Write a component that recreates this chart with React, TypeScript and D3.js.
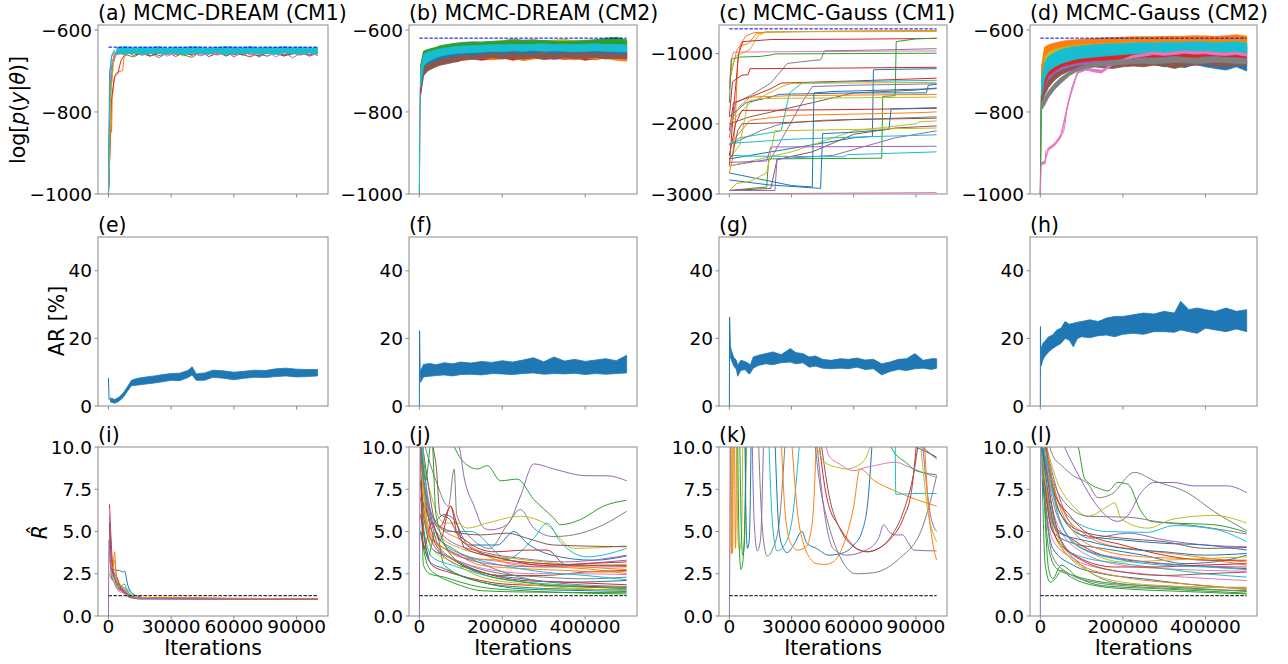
import React from 'react';
import * as d3 from 'd3';

type Pt = [number, number];
type Trace = [number, Pt[]];            // colour index, points
type Band = [number, number[], number[]]; // colour index, lower edge, upper edge
type Walk = [number, number[]];          // colour index, values on a shared x grid

const palette = ['#1f77b4', '#ff7f0e', '#2ca02c', '#d62728', '#9467bd', '#8c564b', '#e377c2', '#7f7f7f', '#bcbd22', '#17becf'];

const titles = [
  ['(a) MCMC-DREAM (CM1)', '(b) MCMC-DREAM (CM2)', '(c) MCMC-Gauss (CM1)', '(d) MCMC-Gauss (CM2)'],
  ['(e)', '(f)', '(g)', '(h)'],
  ['(i)', '(j)', '(k)', '(l)'],
];
const iterMax = [100000, 500000, 100000, 500000];
const shortTicks = [0, 30000, 60000, 90000];
const longTicks = [0, 200000, 400000];
const llTicks = [-1000, -800, -600];
const llTicksC = [-3000, -2000, -1000];
const arTicks = [0, 20, 40];
const rhatTicks = [0, 2.5, 5, 7.5, 10];
const bestLL = [-642, -620, -648, -620];
const rhatLimit = 1.2;

// ---------- (a) DREAM CM1 log-likelihood ----------
const aBurnIn: Trace[] = [
  [0, [[0, -1000], [600, -780], [1500, -690], [3000, -656], [5000, -650]]],
  [1, [[0, -1000], [1200, -830], [1500, -850], [1800, -770], [2600, -722], [3500, -706], [5000, -702], [6800, -699], [7400, -668], [9000, -655]]],
  [2, [[0, -1000], [800, -745], [2000, -682], [4000, -656]]],
  [3, [[0, -1000], [1500, -765], [3000, -714], [4500, -706], [6000, -674], [8000, -660]]],
  [4, [[0, -1000], [700, -735], [2500, -668], [4000, -653]]],
  [5, [[0, -1000], [900, -765], [2200, -684], [3500, -660]]],
  [6, [[0, -1000], [1000, -725], [2000, -674], [3000, -657]]],
  [7, [[0, -1000], [500, -705], [1500, -666], [3000, -650]]],
  [8, [[0, -1000], [1200, -755], [2500, -676], [4000, -655]]],
  [9, [[0, -1000], [300, -905], [800, -705], [1500, -662], [3000, -648]]],
];
const aStatX = [4000, 8000, 12000, 16000, 20000, 24000, 28000, 32000, 36000, 40000, 44000, 48000, 52000, 56000, 60000, 64000, 68000, 72000, 76000, 80000, 84000, 88000, 92000, 96000, 100000];
const aWalks: Walk[] = [
  [0, [-645, -648, -644, -650, -646, -643, -649, -645, -647, -644, -650, -646, -643, -648, -645, -649, -644, -647, -650, -645, -643, -648, -646, -644, -647]],
  [1, [-655, -662, -650, -658, -664, -652, -660, -656, -663, -651, -659, -654, -661, -657, -650, -662, -655, -658, -664, -653, -660, -656, -662, -651, -658]],
  [2, [-652, -660, -666, -655, -650, -663, -657, -652, -661, -667, -654, -659, -651, -664, -656, -660, -653, -666, -655, -650, -662, -657, -654, -661, -656]],
  [3, [-658, -651, -662, -656, -664, -654, -650, -660, -655, -662, -652, -665, -657, -651, -661, -654, -659, -663, -652, -657, -664, -655, -660, -653, -662]],
  [4, [-650, -657, -653, -662, -655, -668, -656, -652, -660, -654, -663, -657, -661, -652, -666, -655, -650, -659, -664, -656, -653, -668, -657, -661, -655]],
  [5, [-660, -654, -657, -651, -663, -658, -652, -665, -656, -660, -653, -658, -650, -662, -655, -660, -666, -654, -657, -651, -662, -659, -653, -664, -657]],
  [6, [-653, -659, -650, -661, -656, -652, -664, -657, -651, -658, -662, -655, -660, -653, -658, -651, -662, -657, -654, -666, -655, -652, -659, -656, -662]],
];
const aCyanLo = [-657, -659, -656, -660, -658, -655, -659, -657, -660, -656, -658, -659, -655, -660, -657, -658, -656, -659, -657, -660, -656, -658, -659, -656, -658];
const aCyanHi = [-643, -641, -644, -642, -643, -641, -644, -642, -643, -641, -642, -644, -643, -641, -642, -643, -641, -644, -642, -643, -641, -643, -642, -644, -643];

// ---------- (b) DREAM CM2 log-likelihood ----------
const bRise: Trace[] = [
  [8, [[0, -1000], [500, -935], [1000, -860], [2000, -780], [3000, -730]]],
  [4, [[0, -1000], [1500, -790], [3000, -750]]],
  [9, [[0, -1000], [800, -850], [1500, -760], [3000, -715]]],
];
const bX = [3000, 10000, 20000, 35000, 50000, 70000, 90000, 110000, 130000, 150000, 175000, 200000, 225000, 250000, 275000, 300000, 325000, 350000, 375000, 400000, 425000, 450000, 475000, 500000];
const bBands: Band[] = [
  [4, [-760, -710, -698, -690, -684, -680, -676, -673, -672, -674, -669, -671, -668, -673, -670, -667, -672, -669, -671, -668, -673, -667, -670, -672],
      [-700, -672, -668, -664, -660, -658, -655, -654, -652, -655, -651, -653, -650, -656, -652, -650, -655, -651, -654, -650, -656, -651, -653, -655]],
  [3, [-750, -705, -692, -686, -680, -676, -678, -671, -669, -673, -672, -668, -674, -670, -667, -671, -668, -672, -669, -674, -670, -668, -671, -675],
      [-705, -670, -665, -662, -658, -655, -656, -652, -650, -653, -652, -648, -654, -650, -648, -651, -649, -652, -648, -653, -650, -648, -651, -654]],
  [1, [-745, -702, -690, -684, -678, -675, -673, -674, -670, -668, -673, -670, -667, -675, -671, -669, -666, -670, -673, -668, -671, -669, -674, -676],
      [-700, -668, -662, -660, -656, -654, -652, -654, -650, -649, -653, -650, -648, -654, -651, -649, -647, -650, -653, -649, -652, -650, -654, -656]],
  [5, [-755, -712, -700, -692, -686, -682, -677, -672, -671, -670, -668, -670, -669, -671, -668, -672, -670, -668, -670, -669, -667, -671, -669, -670],
      [-710, -675, -668, -662, -660, -656, -652, -650, -650, -649, -648, -650, -649, -652, -648, -652, -650, -649, -651, -650, -648, -652, -650, -651]],
  [0, [-730, -690, -682, -676, -670, -666, -662, -660, -660, -658, -656, -657, -655, -657, -656, -654, -657, -655, -656, -654, -656, -655, -657, -658],
      [-690, -660, -655, -650, -646, -642, -640, -638, -638, -636, -635, -634, -632, -634, -633, -632, -634, -633, -632, -634, -633, -632, -634, -635]],
  [7, [-720, -680, -672, -665, -660, -655, -652, -650, -649, -648, -647, -646, -645, -646, -645, -647, -646, -647, -648, -647, -646, -645, -647, -648],
      [-690, -655, -650, -645, -638, -635, -632, -630, -629, -630, -628, -627, -622, -625, -624, -627, -628, -626, -627, -629, -626, -625, -627, -630]],
  [8, [-720, -678, -670, -664, -658, -654, -651, -650, -648, -646, -645, -644, -643, -645, -644, -646, -645, -643, -645, -644, -643, -645, -646, -647],
      [-690, -652, -648, -644, -640, -637, -634, -633, -631, -630, -629, -627, -624, -626, -625, -626, -625, -623, -627, -625, -624, -623, -625, -627]],
  [2, [-715, -675, -668, -660, -654, -650, -647, -645, -643, -642, -641, -640, -639, -640, -638, -639, -640, -641, -642, -640, -639, -637, -636, -639],
      [-688, -652, -648, -644, -640, -636, -633, -631, -630, -630, -628, -627, -625, -626, -625, -626, -627, -628, -627, -626, -624, -620, -618, -624]],
  [9, [-740, -688, -678, -670, -664, -660, -657, -656, -655, -654, -652, -653, -651, -652, -650, -652, -651, -652, -653, -652, -651, -652, -653, -654],
      [-700, -660, -654, -650, -646, -643, -640, -639, -638, -637, -636, -636, -635, -636, -635, -634, -636, -635, -636, -635, -634, -636, -635, -637]],
];

// ---------- (c) Gauss CM1 log-likelihood ----------
const cChains: Trace[] = [
  [1, [[0, -2700], [1500, -2500], [3000, -1900], [4000, -1100], [5500, -860], [8000, -750], [12000, -700], [30000, -690], [60000, -680], [100000, -675]]],
  [1, [[0, -1400], [2000, -1150], [3500, -960], [5000, -890], [9000, -860], [13000, -720], [18000, -690], [100000, -672]]],
  [8, [[0, -1500], [1000, -1200], [3000, -1040], [6000, -1000], [10000, -940], [14000, -740], [18000, -690], [100000, -685]]],
  [3, [[0, -2600], [2000, -1800], [4500, -1000], [6500, -830], [20000, -800], [60000, -795], [100000, -785]]],
  [7, [[0, -2200], [3000, -1700], [10000, -1600], [20000, -1420], [28000, -1140], [40000, -1100], [44000, -1090], [46000, -960], [70000, -950], [100000, -930]]],
  [2, [[0, -2950], [18000, -2900], [19000, -2500], [73500, -2490], [74000, -1610], [80000, -1600], [80500, -830], [90000, -790], [100000, -780]]],
  [6, [[0, -1500], [800, -1100], [2000, -980], [30000, -972], [100000, -962]]],
  [2, [[0, -1700], [1000, -1080], [5000, -1050], [15000, -1040], [20000, -1020], [22000, -1005], [100000, -995]]],
  [3, [[0, -1900], [1500, -1400], [6000, -1310], [9000, -1300], [10000, -1215], [60000, -1205], [100000, -1195]]],
  [0, [[0, -2500], [30000, -2350], [60000, -2200], [69000, -2180], [69500, -1230], [100000, -1215]]],
  [3, [[0, -2100], [2000, -1700], [10000, -1620], [20000, -1500], [25000, -1420], [60000, -1390], [100000, -1350]]],
  [9, [[0, -2300], [5000, -2200], [25000, -2100], [29000, -1560], [35000, -1420], [60000, -1400], [100000, -1380]]],
  [8, [[0, -2000], [10000, -1700], [26000, -1460], [30000, -1425], [100000, -1410]]],
  [4, [[0, -2600], [20000, -2500], [35000, -1700], [40000, -1470], [60000, -1450], [100000, -1430]]],
  [5, [[0, -2000], [10000, -1900], [40000, -1700], [60000, -1560], [90000, -1520], [100000, -1490]]],
  [0, [[0, -1900], [8000, -1700], [20000, -1620], [24000, -1580], [60000, -1560], [95000, -1560], [96000, -1450], [100000, -1440]]],
  [1, [[0, -2000], [5000, -1750], [10000, -1620], [30000, -1600], [100000, -1580]]],
  [8, [[0, -2500], [5000, -2300], [9000, -1680], [15000, -1640], [100000, -1620]]],
  [3, [[0, -2450], [3000, -2000], [6000, -1810], [50000, -1800], [100000, -1780]]],
  [1, [[0, -2300], [10000, -1950], [30000, -1880], [80000, -1850], [93000, -1840], [100000, -1830]]],
  [7, [[0, -2300], [15000, -2100], [25000, -2000], [45000, -1950], [70000, -1930], [100000, -1900]]],
  [8, [[0, -2600], [30000, -2400], [60000, -2100], [90000, -2000], [92000, -1970], [100000, -1960]]],
  [5, [[0, -2950], [20000, -2920], [23000, -2510], [40000, -2400], [60000, -2150], [80000, -2060], [100000, -2030]]],
  [0, [[0, -2800], [19000, -2870], [44000, -2920], [45000, -2140], [60000, -2120], [77000, -2080], [78000, -1790], [100000, -1770]]],
  [4, [[0, -2950], [22000, -2950], [23000, -2500], [50000, -2450], [80000, -2200], [100000, -2100]]],
  [9, [[0, -2280], [30000, -2220], [60000, -2190], [100000, -2157]]],
  [4, [[0, -2550], [18000, -2530], [20000, -2330], [100000, -2320]]],
  [9, [[0, -2450], [10000, -2460], [55000, -2470], [57000, -2440], [100000, -2400]]],
  [6, [[0, -3000], [40000, -2990], [100000, -2980]]],
  [0, [[0, -2700], [30000, -2880], [40000, -2900], [40800, -1560], [50000, -1540], [100000, -1500]]],
  [5, [[0, -2500], [1500, -2450], [4000, -2100], [6000, -2000], [30000, -1980], [60000, -1940], [100000, -1920]]],
  [8, [[0, -2950], [3500, -2850], [10000, -2820], [18000, -2700], [22000, -2100], [100000, -2060]]],
];

// ---------- (d) Gauss CM2 log-likelihood ----------
const dRise: Trace[] = [
  [8, [[0, -1000], [500, -930], [1500, -800], [3000, -720]]],
  [3, [[0, -1000], [800, -940], [1500, -850], [3000, -760]]],
  [9, [[0, -1000], [1000, -830], [3000, -740]]],
  [2, [[0, -1000], [2000, -790], [3000, -745]]],
  [6, [[0, -1000], [2000, -930], [12000, -925], [13000, -895], [16000, -892], [30000, -880], [44000, -867], [56000, -850], [60000, -830], [64000, -792], [70000, -770], [76000, -742], [84000, -720], [92000, -704], [104000, -700], [116000, -696], [130000, -702], [148000, -705], [156000, -692], [175000, -685], [200000, -678]]],
];
const dX = bX;
const dBands: Band[] = [
  [0, [-770, -750, -730, -715, -705, -698, -692, -690, -688, -686, -685, -684, -683, -688, -684, -690, -687, -692, -684, -690, -694, -698, -690, -700],
      [-740, -720, -700, -690, -682, -676, -672, -670, -668, -667, -666, -665, -664, -666, -665, -667, -668, -666, -665, -668, -672, -674, -670, -676]],
  [5, [-780, -760, -740, -722, -710, -700, -694, -692, -690, -692, -694, -690, -688, -690, -686, -688, -694, -688, -686, -684, -688, -690, -686, -688],
      [-750, -735, -715, -700, -690, -682, -678, -676, -674, -675, -676, -672, -671, -673, -670, -672, -676, -671, -669, -668, -671, -672, -669, -671]],
  [4, [-760, -740, -720, -705, -698, -690, -686, -684, -680, -678, -676, -675, -674, -673, -672, -671, -673, -672, -670, -671, -672, -673, -671, -672],
      [-730, -705, -690, -680, -672, -666, -662, -660, -656, -652, -650, -648, -646, -644, -645, -643, -644, -642, -640, -641, -639, -640, -641, -642]],
  [3, [-760, -735, -712, -700, -690, -684, -680, -677, -675, -674, -672, -670, -669, -668, -667, -668, -666, -667, -668, -666, -667, -668, -667, -669],
      [-720, -690, -672, -664, -656, -650, -646, -644, -642, -641, -640, -638, -637, -636, -636, -635, -636, -635, -634, -635, -636, -635, -634, -636]],
  [2, [-740, -712, -695, -685, -678, -672, -668, -665, -662, -660, -658, -657, -656, -655, -654, -655, -654, -653, -654, -653, -652, -653, -654, -655],
      [-700, -670, -655, -648, -642, -638, -635, -633, -632, -631, -630, -629, -628, -627, -628, -627, -626, -627, -628, -626, -627, -628, -627, -629]],
  [8, [-730, -700, -680, -670, -664, -660, -656, -654, -652, -650, -648, -647, -646, -645, -646, -644, -645, -643, -644, -645, -643, -644, -645, -646],
      [-690, -655, -642, -636, -632, -628, -626, -624, -622, -620, -619, -618, -617, -616, -617, -616, -615, -616, -617, -615, -616, -617, -616, -618]],
  [1, [-720, -665, -652, -646, -642, -638, -636, -634, -633, -632, -631, -630, -629, -630, -629, -628, -629, -628, -627, -628, -629, -628, -627, -629],
      [-690, -642, -636, -632, -628, -625, -624, -622, -621, -620, -619, -618, -617, -618, -617, -616, -617, -615, -614, -615, -616, -614, -612, -615]],
  [9, [-760, -720, -700, -690, -682, -676, -670, -668, -666, -664, -662, -660, -658, -657, -656, -655, -656, -655, -654, -655, -654, -655, -656, -658],
      [-720, -680, -665, -655, -648, -643, -640, -638, -636, -635, -634, -633, -632, -631, -632, -630, -631, -630, -629, -630, -631, -630, -629, -632]],
  [6, [-928, -926, -893, -882, -862, -772, -706, -698, -702, -704, -686, -678, -668, -664, -660, -662, -660, -657, -659, -658, -661, -662, -660, -664],
      [-922, -921, -887, -877, -854, -764, -700, -692, -696, -698, -680, -672, -662, -658, -654, -656, -654, -651, -653, -652, -655, -656, -654, -658]],
  [7, [-795, -785, -765, -745, -730, -712, -700, -694, -690, -688, -686, -684, -682, -681, -683, -681, -679, -680, -682, -681, -679, -680, -682, -683],
      [-775, -765, -748, -730, -716, -702, -692, -686, -680, -678, -675, -673, -671, -668, -669, -667, -665, -667, -669, -666, -665, -667, -668, -670]],
];

// ---------- (e)-(h) acceptance rate ----------
const eSpike: Pt[] = [[0, 8.3], [300, 1.8]];
const eX = [1000, 3000, 5000, 7000, 9000, 11000, 14000, 18000, 22000, 26000, 30000, 34000, 38000, 40000, 42000, 46000, 50000, 55000, 60000, 65000, 70000, 75000, 80000, 85000, 90000, 95000, 100000];
const eLo = [1.2, 0.8, 1.4, 2.5, 4.3, 6.0, 6.2, 6.5, 6.8, 7.2, 7.6, 7.5, 8.4, 9.2, 7.6, 7.6, 8.5, 8.2, 7.8, 8.2, 8.5, 8.4, 8.7, 8.9, 8.6, 8.7, 8.9];
const eHi = [2.4, 1.9, 2.6, 3.8, 5.6, 7.6, 8.2, 8.6, 8.9, 9.3, 9.6, 9.7, 10.5, 11.6, 9.5, 9.8, 10.6, 10.4, 10.0, 10.3, 10.6, 10.5, 11.0, 11.2, 10.9, 10.8, 10.8];

const fSpike: Pt[] = [[0, 0], [500, 22.3], [2000, 8]];
const fX = [3000, 10000, 25000, 40000, 60000, 80000, 100000, 125000, 150000, 175000, 200000, 225000, 250000, 275000, 300000, 325000, 350000, 375000, 400000, 425000, 450000, 475000, 500000];
const fLo = [7.0, 8.6, 8.8, 9.0, 9.2, 8.9, 9.3, 9.4, 9.2, 9.6, 9.5, 9.3, 9.6, 9.8, 9.4, 9.6, 9.5, 9.7, 9.3, 9.6, 9.4, 9.6, 9.8];
const fHi = [10.5, 12.3, 12.6, 12.2, 12.8, 12.5, 13.0, 12.7, 13.2, 12.9, 13.4, 13.0, 13.6, 14.3, 13.1, 14.5, 13.3, 13.8, 13.2, 13.6, 14.0, 13.4, 15.0];

const gSpike: Pt[] = [[0, 0], [100, 26.3], [500, 17.5]];
const gX = [500, 1000, 2000, 3400, 4000, 5500, 7500, 9500, 10000, 11500, 14000, 17500, 21000, 25000, 29500, 32000, 35500, 38500, 41500, 45000, 49000, 53500, 57500, 61500, 65500, 69500, 73500, 77500, 81500, 85500, 89500, 93500, 97500, 100000];
const gLo = [14.5, 13.5, 12.0, 10.8, 8.8, 10.5, 10.8, 9.5, 9.6, 11.2, 12.0, 12.5, 12.2, 12.8, 13.0, 12.5, 12.8, 11.5, 11.8, 11.2, 11.0, 11.2, 11.0, 11.5, 10.8, 11.0, 9.2, 10.2, 10.8, 10.5, 11.0, 11.2, 10.8, 11.2];
const gHi = [17.5, 16.5, 14.5, 13.5, 12.0, 13.5, 13.2, 12.5, 12.0, 14.5, 15.0, 15.5, 16.0, 15.2, 17.0, 15.8, 15.5, 14.5, 14.8, 13.8, 13.5, 14.0, 13.8, 14.2, 13.6, 13.8, 12.5, 13.0, 13.8, 14.0, 15.5, 13.5, 14.0, 14.0];

const hSpike: Pt[] = [[0, 0], [300, 23.5], [1500, 13]];
const hX = [2000, 6000, 10000, 20000, 30000, 40000, 50000, 60000, 70000, 80000, 90000, 100000, 120000, 140000, 160000, 180000, 200000, 225000, 250000, 275000, 300000, 325000, 340000, 360000, 380000, 400000, 425000, 450000, 475000, 500000];
const hLo = [11.8, 13.5, 14.5, 16.0, 17.0, 17.8, 18.5, 20.0, 19.5, 17.5, 20.0, 20.5, 20.2, 20.8, 21.0, 20.5, 21.2, 21.5, 21.2, 22.0, 22.0, 21.8, 22.5, 22.0, 21.5, 23.0, 22.5, 22.0, 22.8, 22.0];
const hHi = [17.0, 18.5, 19.0, 20.5, 21.0, 22.5, 23.0, 25.0, 24.2, 24.5, 24.8, 25.0, 25.5, 25.0, 26.0, 26.5, 26.5, 27.0, 27.5, 27.2, 28.0, 27.5, 31.0, 28.5, 29.0, 28.5, 28.0, 29.0, 28.0, 28.5];

// ---------- (i)-(l) R-hat ----------
const iLines: Trace[] = [
  [3, [[500, 6.6], [1000, 5.2], [2000, 3.0], [3000, 2.4], [4000, 2.0], [6000, 1.5], [8000, 1.3], [10000, 1.1], [14000, 1.03], [100000, 1.02]]],
  [0, [[500, 5.9], [1200, 4.0], [2000, 2.9], [3600, 2.7], [5200, 2.7], [6900, 2.6], [7700, 2.65], [9300, 1.8], [11000, 1.4], [13500, 1.2], [20000, 1.05], [100000, 1.03]]],
  [1, [[500, 2.5], [1500, 2.2], [3000, 3.8], [3500, 2.6], [5000, 2.0], [7000, 1.5], [10000, 1.2], [15000, 1.04], [100000, 1.02]]],
  [2, [[500, 4.0], [1500, 2.5], [3000, 1.9], [5000, 1.5], [6500, 1.8], [7500, 1.9], [9000, 1.5], [11000, 1.2], [15000, 1.05], [100000, 1.03]]],
  [4, [[0, 0], [300, 4.5], [1000, 3.0], [1500, 2.2], [3000, 2.0], [5000, 1.6], [7000, 1.4], [9000, 1.2], [15000, 1.02], [100000, 0.99]]],
  [5, [[500, 4.8], [1500, 3.2], [2500, 2.5], [4000, 1.8], [6000, 1.6], [8000, 1.5], [10000, 1.2], [15000, 1.04], [100000, 1.01]]],
  [6, [[500, 6.3], [1200, 3.6], [2000, 2.3], [4000, 1.7], [6000, 1.4], [8000, 1.6], [10000, 1.2], [15000, 1.03], [100000, 1.01]]],
  [7, [[500, 4.4], [1500, 2.8], [3000, 2.2], [5000, 1.7], [7000, 1.5], [10000, 1.15], [15000, 1.02], [100000, 1.0]]],
  [8, [[500, 3.5], [1500, 2.6], [3000, 2.0], [5000, 1.7], [7000, 1.6], [10000, 1.3], [15000, 1.05], [100000, 1.02]]],
  [9, [[500, 5.2], [1500, 3.0], [3000, 2.3], [5000, 1.9], [7000, 1.7], [9000, 1.6], [11000, 1.3], [15000, 1.05], [100000, 1.02]]],
  [3, [[500, 5.5], [1000, 4.0], [2000, 2.6], [4000, 2.3], [6000, 1.6], [8000, 1.4], [12000, 1.1], [100000, 1.01]]],
  [1, [[500, 4.0], [2000, 2.8], [3000, 3.3], [4000, 2.2], [6000, 1.8], [8000, 1.5], [12000, 1.1], [100000, 1.02]]],
  [4, [[500, 4.3], [1000, 3.0], [2000, 2.5], [4000, 2.0], [6000, 1.7], [9000, 1.3], [14000, 1.02], [100000, 0.98]]],
];

const jLines: Trace[] = [
  [4, [[3000, 12], [40000, 11], [80000, 10.5], [96000, 10], [108000, 8.2], [132000, 6.5], [156000, 5.2], [172000, 5.1], [212000, 5.4], [244000, 7.1], [276000, 9.0], [324000, 8.7], [404000, 8.3], [452000, 8.3], [500000, 8.0]]],
  [2, [[3000, 12], [60000, 11], [84000, 10], [100000, 9.3], [140000, 8.7], [164000, 8.9], [196000, 8.0], [236000, 8.1], [276000, 6.9], [324000, 5.8], [340000, 5.4], [388000, 5.7], [444000, 6.5], [500000, 6.85]]],
  [7, [[3000, 11], [40000, 8], [70000, 6.5], [84000, 8.7], [90000, 6.0], [130000, 4.5], [170000, 4.0], [212000, 5.4], [244000, 6.3], [276000, 5.2], [324000, 4.7], [372000, 4.8], [444000, 5.4], [500000, 6.2]]],
  [8, [[3000, 10], [30000, 7], [60000, 5.5], [90000, 5.5], [116000, 5.2], [164000, 5.5], [244000, 5.9], [308000, 5.4], [372000, 4.0], [500000, 4.15]]],
  [9, [[3000, 9], [30000, 6], [70000, 5], [124000, 5.0], [212000, 3.4], [276000, 4.6], [308000, 5.5], [340000, 4.4], [404000, 3.5], [500000, 4.0]]],
  [5, [[3000, 11], [20000, 8], [40000, 5.5], [80000, 5.0], [148000, 4.8], [212000, 4.9], [260000, 4.6], [324000, 4.2], [500000, 4.1]]],
  [3, [[3000, 10], [20000, 6], [50000, 5.3], [76000, 6.5], [90000, 5.0], [116000, 4.4], [180000, 3.8], [260000, 3.9], [308000, 3.9], [356000, 3.0], [500000, 3.0]]],
  [0, [[3000, 9], [30000, 5.5], [60000, 6.0], [80000, 5.8], [120000, 4.2], [188000, 4.2], [228000, 5.0], [260000, 4.3], [320000, 3.6], [420000, 3.3], [500000, 3.55]]],
  [0, [[3000, 7], [30000, 4], [70000, 3.5], [150000, 2.6], [250000, 2.2], [350000, 2.0], [500000, 2.1]]],
  [6, [[3000, 8], [20000, 5], [60000, 4], [120000, 3.5], [200000, 3.2], [300000, 3.0], [400000, 2.9], [500000, 2.9]]],
  [1, [[3000, 10], [15000, 7], [40000, 5.5], [100000, 4.5], [160000, 3.6], [240000, 3.0], [320000, 2.9], [400000, 2.8], [500000, 2.5]]],
  [1, [[3000, 9], [25000, 5], [60000, 4], [120000, 3.4], [200000, 3.3], [300000, 3.1], [400000, 2.9], [500000, 2.75]]],
  [3, [[3000, 7], [20000, 6.0], [40000, 4.2], [90000, 3.2], [150000, 2.6], [250000, 2.1], [350000, 2.0], [500000, 1.85]]],
  [2, [[3000, 5], [20000, 3], [44000, 2.4], [68000, 2.1], [100000, 1.8], [148000, 1.5], [250000, 1.42], [500000, 1.38]]],
  [2, [[3000, 10], [10000, 3], [25000, 2.5], [60000, 2.3], [100000, 2.0], [150000, 1.7], [250000, 1.5], [400000, 1.35], [500000, 1.3]]],
  [4, [[3000, 10], [30000, 6], [70000, 4.5], [150000, 3.8], [250000, 3.4], [350000, 3.2], [450000, 3.4], [500000, 3.6]]],
  [8, [[3000, 8], [40000, 5.0], [100000, 4.0], [200000, 3.5], [300000, 3.2], [400000, 3.0], [500000, 3.05]]],
  [7, [[3000, 9], [50000, 4.0], [120000, 3.0], [200000, 2.5], [300000, 2.3], [400000, 2.2], [500000, 2.3]]],
  [9, [[3000, 6], [30000, 3.5], [80000, 3.0], [160000, 2.4], [260000, 2.0], [380000, 1.8], [500000, 1.6]]],
  [5, [[3000, 8], [20000, 5], [60000, 3.5], [120000, 2.8], [200000, 2.4], [300000, 2.4], [400000, 2.6], [500000, 2.7]]],
  [6, [[3000, 7], [40000, 4.0], [100000, 3.2], [180000, 2.7], [280000, 2.5], [380000, 2.5], [500000, 2.45]]],
  [3, [[3000, 6], [30000, 3.0], [70000, 2.6], [130000, 2.2], [200000, 1.9], [300000, 1.8], [400000, 1.75], [500000, 1.7]]],
  [0, [[3000, 5], [25000, 3.2], [60000, 2.8], [150000, 2.0], [250000, 1.6], [400000, 1.5], [500000, 1.45]]],
  [1, [[3000, 7], [30000, 4.5], [80000, 3.8], [150000, 3.0], [250000, 2.8], [350000, 2.7], [450000, 2.6], [500000, 2.65]]],
  [2, [[3000, 8], [20000, 3.5], [40000, 5], [60000, 3], [150000, 2.0], [250000, 1.7], [350000, 1.6], [500000, 1.55]]],
  [9, [[3000, 12], [20000, 7], [50000, 4.5], [120000, 3.5], [200000, 3.0], [300000, 2.6], [400000, 2.4], [500000, 2.15]]],
  [4, [[3000, 9], [40000, 5.0], [100000, 3.5], [200000, 3.0], [300000, 2.9], [400000, 3.1], [500000, 3.3]]],
  [3, [[3000, 11], [10000, 4], [30000, 5.5], [50000, 4.5], [75000, 6.5], [90000, 5.5], [110000, 4.0], [200000, 3.4], [300000, 3.0], [400000, 3.1], [500000, 3.2]]],
  [7, [[3000, 10], [30000, 5.0], [80000, 4.0], [160000, 3.0], [260000, 2.2], [360000, 1.9], [500000, 1.75]]],
  [2, [[3000, 11], [15000, 8], [30000, 10.5], [40000, 6], [80000, 3.5], [150000, 2.5], [250000, 2.0], [400000, 1.7], [500000, 1.65]]],
  [8, [[3000, 9], [30000, 4.0], [80000, 3.2], [150000, 2.3], [250000, 1.9], [400000, 1.6], [500000, 1.5]]],
  [5, [[3000, 12], [40000, 9], [50000, 6], [70000, 5.8], [100000, 4.5], [180000, 3.5], [300000, 3.1], [500000, 2.95]]],
  [4, [[0, 0], [2000, 11]]],
];

const kLines: Trace[] = [
  [8, [[600, 10.5], [900, 3.7], [1300, 3.7], [1600, 10.5]]],
  [1, [[900, 10.5], [1100, 3.7], [1600, 3.8], [1900, 10.5]]],
  [4, [[0, 0], [200, 3.7], [400, 10.5]]],
  [1, [[2500, 10.5], [3000, 4.0], [3500, 10.5]]],
  [8, [[3500, 10.5], [4200, 4.5], [5000, 3.9], [5800, 4.5], [6500, 10.5]]],
  [2, [[4000, 10.5], [4800, 4.0], [5600, 2.75], [6500, 3.2], [7500, 6], [8000, 10.5]]],
  [2, [[5000, 10.5], [5800, 5], [6400, 3.6], [7200, 4.2], [8200, 10.5]]],
  [0, [[7500, 10.5], [8200, 5], [8800, 4.0], [9600, 4.5], [10500, 10.5]]],
  [4, [[11000, 10.5], [12000, 5.5], [13500, 3.85], [15000, 4.5], [16500, 10.5]]],
  [7, [[14000, 10.5], [15500, 6], [17000, 4.0], [18300, 3.55], [21000, 4.0], [24000, 5.5], [27000, 10.5]]],
  [9, [[19000, 10.5], [20500, 6], [22000, 4.2], [23000, 3.85], [26000, 4.1], [30000, 5.5], [34000, 10.5]]],
  [0, [[22000, 10.5], [24000, 5], [26000, 4.0], [27900, 3.75], [31000, 4.2], [35000, 5.0], [37400, 4.3], [42000, 4.0], [48000, 3.6], [54000, 3.7], [60000, 4.2], [64000, 5], [67000, 7], [69000, 10.5]]],
  [1, [[25000, 10.5], [27000, 6], [30000, 4.2], [33000, 3.9], [37000, 4.1], [40000, 5.5], [42000, 10.5]]],
  [1, [[30000, 10.5], [33000, 6], [36000, 4.2], [39000, 3.4], [42000, 3.1], [46000, 3.05], [50000, 3.2], [55000, 4.2], [60000, 6.5], [63000, 8.7], [70000, 8.0], [80000, 7.4], [90000, 6.9], [100000, 6.5]]],
  [7, [[41000, 10.5], [44000, 7.5], [47000, 5.8], [53400, 3.5], [61300, 2.5], [69000, 2.55], [82000, 3.4], [93000, 5.2], [97000, 6.8], [100000, 8.3]]],
  [4, [[42000, 10.5], [46000, 6], [50000, 4.0], [56500, 3.6], [66000, 3.9], [72000, 4.6], [74500, 5.4], [77000, 5.0], [80000, 4.8], [83600, 4.8], [86000, 4.4], [89000, 3.9], [100000, 3.85]]],
  [3, [[43000, 10.5], [47000, 7], [53400, 5.2], [58000, 4.4], [61300, 4.0], [67000, 3.8], [72000, 4.0], [78000, 4.6], [84000, 5.8], [88000, 7.5], [90500, 10.5]]],
  [5, [[44000, 10.5], [48000, 7.2], [54000, 5.0], [60000, 4.1], [66000, 3.8], [72000, 4.0], [78000, 4.7], [84000, 6.2], [89000, 8.5], [91500, 10.5]]],
  [8, [[40000, 10.5], [42000, 10], [46000, 9.1], [52000, 8.8], [56500, 8.7], [62000, 8.9], [66000, 9.4], [69000, 10.5]]],
  [6, [[46000, 10.5], [48000, 9.5], [53000, 9.0], [60000, 8.6], [66000, 8.8], [70000, 8.9], [80000, 9.1], [87000, 8.8], [93000, 8.5], [100000, 8.2]]],
  [2, [[76000, 10.5], [80000, 9.6], [85000, 9.1], [90000, 8.6], [93000, 8.5], [100000, 8.35]]],
  [9, [[80000, 10.5], [80300, 7.2], [90000, 7.25], [100000, 7.25]]],
  [0, [[78000, 10.5], [90000, 10.0], [100000, 9.4]]],
  [5, [[88000, 10.5], [95000, 9.8], [100000, 9.3]]],
  [8, [[92000, 10.5], [94000, 8], [96000, 6], [98000, 5.0], [100000, 4.4]]],
  [4, [[93000, 10.5], [94500, 8.5], [97000, 6.0], [100000, 5.0]]],
  [1, [[94000, 10.5], [96000, 6.5], [98000, 4.4], [100000, 3.3]]],
];

const lLines: Trace[] = [
  [4, [[5000, 12], [40000, 11], [68000, 9.5], [100000, 8.0], [132000, 6.7], [188000, 5.6], [212000, 5.95], [244000, 7.3], [276000, 7.9], [324000, 7.9], [372000, 7.7], [452000, 7.7], [500000, 7.3]]],
  [2, [[5000, 12], [80000, 11], [92000, 10], [108000, 8.1], [148000, 7.5], [164000, 7.4], [188000, 7.9], [212000, 7.8], [244000, 6.2], [268000, 5.6], [324000, 5.5], [420000, 5.4], [500000, 4.95]]],
  [7, [[5000, 12], [30000, 9.5], [52000, 8.9], [80000, 8.3], [116000, 7.8], [140000, 7.0], [172000, 7.2], [228000, 8.5], [276000, 8.0], [356000, 7.3], [420000, 6.2], [500000, 5.05]]],
  [8, [[5000, 11], [40000, 8], [80000, 6.5], [116000, 5.9], [164000, 6.5], [180000, 6.7], [196000, 5.75], [260000, 5.2], [324000, 5.75], [420000, 5.95], [500000, 5.5]]],
  [7, [[5000, 10], [50000, 7], [116000, 5.9], [212000, 5.85], [292000, 5.55], [372000, 5.35], [500000, 4.85]]],
  [9, [[5000, 10], [40000, 7], [90000, 5.5], [160000, 5.0], [260000, 4.95], [324000, 5.35], [420000, 5.15], [500000, 4.4]]],
  [4, [[5000, 11], [40000, 7.5], [70000, 5.6], [120000, 4.6], [212000, 4.9], [300000, 4.5], [400000, 4.2], [500000, 4.1]]],
  [0, [[5000, 10], [40000, 6.5], [100000, 4.8], [200000, 4.5], [300000, 4.3], [400000, 4.2], [500000, 3.9]]],
  [0, [[5000, 9], [30000, 5], [80000, 4.3], [150000, 4.0], [250000, 3.6], [350000, 3.1], [450000, 3.3], [500000, 3.6]]],
  [1, [[5000, 12], [30000, 8], [60000, 6.0], [100000, 5.0], [150000, 4.3], [250000, 3.9], [350000, 3.6], [450000, 3.3], [500000, 3.2]]],
  [1, [[5000, 11], [40000, 7], [80000, 5], [150000, 3.9], [250000, 3.5], [350000, 3.4], [450000, 3.2], [500000, 3.0]]],
  [3, [[5000, 12], [30000, 7.5], [70000, 6], [120000, 4.8], [200000, 4.2], [300000, 3.6], [400000, 3.3], [500000, 3.3]]],
  [3, [[5000, 10], [30000, 5.5], [80000, 4.5], [150000, 3.6], [250000, 3.2], [350000, 3.0], [500000, 2.8]]],
  [5, [[5000, 11], [50000, 6], [100000, 5.0], [200000, 4.6], [300000, 4.4], [400000, 4.0], [500000, 4.05]]],
  [6, [[5000, 9], [40000, 5.5], [100000, 3.8], [200000, 3.0], [300000, 2.8], [400000, 2.7], [500000, 2.65]]],
  [6, [[5000, 8], [30000, 4.5], [80000, 3.4], [150000, 2.8], [250000, 2.5], [350000, 2.3], [500000, 2.1]]],
  [2, [[3000, 10], [12000, 3.0], [24000, 2.0], [36000, 2.2], [52000, 2.7], [68000, 2.4], [132000, 1.8], [212000, 1.6], [350000, 1.45], [500000, 1.3]]],
  [2, [[5000, 9], [20000, 4], [40000, 2.8], [80000, 2.4], [150000, 2.0], [250000, 1.8], [400000, 1.6], [500000, 1.45]]],
  [9, [[5000, 9], [40000, 4.5], [100000, 3.5], [200000, 3.1], [300000, 2.8], [400000, 2.5], [500000, 2.3]]],
  [8, [[5000, 10], [60000, 5.0], [120000, 3.8], [200000, 3.2], [300000, 3.3], [400000, 3.4], [500000, 3.5]]],
  [7, [[5000, 11], [40000, 5], [100000, 3.0], [150000, 2.2], [200000, 1.9], [300000, 1.75], [400000, 1.7], [500000, 1.7]]],
  [4, [[5000, 10], [40000, 6], [100000, 4.0], [200000, 3.4], [300000, 3.1], [400000, 2.95], [500000, 2.9]]],
  [0, [[5000, 8], [30000, 4.0], [80000, 3.0], [150000, 2.5], [250000, 2.2], [350000, 1.9], [500000, 1.6]]],
  [5, [[5000, 10], [50000, 4.5], [100000, 3.3], [200000, 2.6], [300000, 2.4], [400000, 2.5], [500000, 2.6]]],
  [1, [[5000, 9], [40000, 4.5], [100000, 3.0], [200000, 2.3], [300000, 2.0], [400000, 1.8], [500000, 1.55]]],
  [3, [[5000, 9], [30000, 5.0], [90000, 3.5], [180000, 2.9], [280000, 2.9], [380000, 3.0], [500000, 3.1]]],
  [2, [[5000, 10], [20000, 2.8], [30000, 2.2], [50000, 3.0], [90000, 2.3], [150000, 1.8], [300000, 1.6], [500000, 1.35]]],
  [9, [[5000, 11], [50000, 5.5], [100000, 4.0], [200000, 3.3], [300000, 3.0], [400000, 2.9], [500000, 2.75]]],
  [8, [[5000, 9], [50000, 4.2], [120000, 2.6], [200000, 2.0], [300000, 1.8], [500000, 1.65]]],
  [7, [[5000, 9], [30000, 3.5], [70000, 2.5], [130000, 2.0], [200000, 1.8], [350000, 1.6], [500000, 1.5]]],
  [0, [[5000, 10], [40000, 5], [120000, 4.4], [200000, 4.0], [300000, 3.8], [400000, 3.6], [500000, 3.7]]],
  [4, [[0, 0], [1000, 10.5]]],
];

// layout
const colX = [98, 409, 719, 1030];
const colW = [230, 228, 228, 227];
const rowY = [25, 237, 447];
const rowH = 169;
const spine = '#8a8a8a';
const font = 'DejaVu Sans, sans-serif';
const tickSize = 18.5;
const labelSize = 20.5;

type Scale = d3.ScaleLinear<number, number>;

function tracePath(x: Scale, y: Scale, pts: Pt[], smooth = false) {
  const g = d3.line<Pt>().x(d => x(d[0])).y(d => y(d[1]));
  if (smooth) g.curve(d3.curveMonotoneX);
  return g(pts) ?? '';
}

function bandPath(x: Scale, y: Scale, xs: number[], lo: number[], hi: number[]) {
  return d3.area<number>().x(i => x(xs[i])).y0(i => y(lo[i])).y1(i => y(hi[i]))(d3.range(xs.length)) ?? '';
}

const fmt = (v: number) => (v < 0 ? '\u2212' + Math.abs(v) : String(v));

function Traces({ x, y, data, smooth }: { x: Scale; y: Scale; data: Trace[]; smooth?: boolean }) {
  return <>{data.map(([c, pts], i) => (
    <path key={i} d={tracePath(x, y, pts, smooth)} fill="none" stroke={palette[c]} strokeWidth={1} />
  ))}</>;
}

function Bands({ x, y, xs, data }: { x: Scale; y: Scale; xs: number[]; data: Band[] }) {
  return <>{data.map(([c, lo, hi], i) => (
    <path key={i} d={bandPath(x, y, xs, lo, hi)} fill={palette[c]} stroke={palette[c]} strokeWidth={0.8} />
  ))}</>;
}

function Panel({ row, col, yDomain, yTicks, yFmt, draw }: {
  row: number; col: number; yDomain: [number, number]; yTicks: number[];
  yFmt: (v: number) => string; draw: (x: Scale, y: Scale) => React.ReactNode;
}) {
  const x0 = colX[col], y0 = rowY[row], w = colW[col];
  const n = iterMax[col];
  const x = d3.scaleLinear().domain([-0.05 * n, 1.05 * n]).range([x0, x0 + w]);
  const y = d3.scaleLinear().domain(yDomain).range([y0 + rowH, y0]);
  const xt = n === 100000 ? shortTicks : longTicks;
  const id = `clip-${row}-${col}`;
  return (
    <g>
      <clipPath id={id}><rect x={x0} y={y0} width={w} height={rowH} /></clipPath>
      <g clipPath={`url(#${id})`}>{draw(x, y)}</g>
      <rect x={x0} y={y0} width={w} height={rowH} fill="none" stroke={spine} strokeWidth={1} />
      {xt.map(t => (
        <g key={t}>
          <line x1={x(t)} x2={x(t)} y1={y0 + rowH} y2={y0 + rowH + 3.5} stroke={spine} />
          {row === 2 && <text x={x(t)} y={y0 + rowH + 17} textAnchor="middle" fontSize={tickSize}>{t}</text>}
        </g>
      ))}
      {yTicks.map(t => (
        <g key={t}>
          <line x1={x0 - 3.5} x2={x0} y1={y(t)} y2={y(t)} stroke={spine} />
          <text x={x0 - 6} y={y(t)} dy="0.36em" textAnchor="end" fontSize={tickSize}>{yFmt(t)}</text>
        </g>
      ))}
      <text x={x0} y={y0 - 5} fontSize={labelSize}>{titles[row][col]}</text>
      {row === 2 && <text x={x0 + w / 2} y={655} textAnchor="middle" fontSize={labelSize}>Iterations</text>}
    </g>
  );
}

function LLBest({ x, y, col }: { x: Scale; y: Scale; col: number }) {
  return <line x1={x(0)} x2={x(iterMax[col])} y1={y(bestLL[col])} y2={y(bestLL[col])}
    stroke="#0000ff" strokeWidth={1} strokeDasharray="3.5,1.5" />;
}

function RLimit({ x, y, col }: { x: Scale; y: Scale; col: number }) {
  return <line x1={x(0)} x2={x(iterMax[col])} y1={y(rhatLimit)} y2={y(rhatLimit)}
    stroke="#333" strokeWidth={1.3} strokeDasharray="3.5,1.5" />;
}

function ARPanel({ col, spike, xs, lo, hi }: { col: number; spike: Pt[]; xs: number[]; lo: number[]; hi: number[] }) {
  return (
    <Panel row={1} col={col} yDomain={[0, 50]} yTicks={arTicks} yFmt={String} draw={(x, y) => (
      <>
        <path d={tracePath(x, y, spike)} fill="none" stroke={palette[0]} strokeWidth={1} />
        <path d={bandPath(x, y, xs, lo, hi)} fill={palette[0]} stroke={palette[0]} strokeWidth={0.8} />
      </>
    )} />
  );
}

function RPanel({ col, lines }: { col: number; lines: Trace[] }) {
  return (
    <Panel row={2} col={col} yDomain={[0, 10]} yTicks={rhatTicks} yFmt={v => v.toFixed(1)} draw={(x, y) => (
      <>
        <Traces x={x} y={y} data={lines} smooth />
        <RLimit x={x} y={y} col={col} />
      </>
    )} />
  );
}

export default function App() {
  const llDom: [number, number] = [-1000, -588];
  return (
    <svg width={1288} height={664} style={{ position: 'absolute', left: 0, top: 0, background: '#fff' }}
      fontFamily={font} fill="#000">
      {/* row 1: log-likelihood */}
      <Panel row={0} col={0} yDomain={llDom} yTicks={llTicks} yFmt={fmt} draw={(x, y) => (
        <>
          <Traces x={x} y={y} data={aBurnIn} />
          {aWalks.map(([c, v], i) => (
            <path key={i} d={tracePath(x, y, v.map((val, k) => [aStatX[k], val] as Pt))}
              fill="none" stroke={palette[c]} strokeWidth={1} />
          ))}
          <path d={bandPath(x, y, aStatX, aCyanLo, aCyanHi)} fill={palette[9]} stroke={palette[9]} strokeWidth={0.8} />
          <LLBest x={x} y={y} col={0} />
        </>
      )} />
      <Panel row={0} col={1} yDomain={llDom} yTicks={llTicks} yFmt={fmt} draw={(x, y) => (
        <>
          <Traces x={x} y={y} data={bRise} />
          <Bands x={x} y={y} xs={bX} data={bBands} />
          <LLBest x={x} y={y} col={1} />
        </>
      )} />
      <Panel row={0} col={2} yDomain={[-3000, -593]} yTicks={llTicksC} yFmt={fmt} draw={(x, y) => (
        <>
          <Traces x={x} y={y} data={cChains} />
          <LLBest x={x} y={y} col={2} />
        </>
      )} />
      <Panel row={0} col={3} yDomain={llDom} yTicks={llTicks} yFmt={fmt} draw={(x, y) => (
        <>
          <Traces x={x} y={y} data={dRise} />
          <Bands x={x} y={y} xs={dX} data={dBands} />
          <LLBest x={x} y={y} col={3} />
        </>
      )} />

      {/* row 2: acceptance rate */}
      <ARPanel col={0} spike={eSpike} xs={eX} lo={eLo} hi={eHi} />
      <ARPanel col={1} spike={fSpike} xs={fX} lo={fLo} hi={fHi} />
      <ARPanel col={2} spike={gSpike} xs={gX} lo={gLo} hi={gHi} />
      <ARPanel col={3} spike={hSpike} xs={hX} lo={hLo} hi={hHi} />

      {/* row 3: R-hat */}
      <RPanel col={0} lines={iLines} />
      <RPanel col={1} lines={jLines} />
      <RPanel col={2} lines={kLines} />
      <RPanel col={3} lines={lLines} />

      {/* y labels */}
      <text transform="translate(25,110) rotate(-90)" textAnchor="middle" fontSize={labelSize}>
        log[<tspan fontStyle="italic">p</tspan>(<tspan fontStyle="italic">y</tspan>|<tspan fontStyle="italic">θ</tspan>)]
      </text>
      <text transform="translate(64,321) rotate(-90)" textAnchor="middle" fontSize={labelSize}>AR [%]</text>
      <g transform="translate(47,532) rotate(-90)">
        <text textAnchor="middle" fontSize={labelSize} fontStyle="italic">R</text>
        <text x={2} y={-4} textAnchor="middle" fontSize={labelSize}>{'\u02C6'}</text>
      </g>
    </svg>
  );
}
